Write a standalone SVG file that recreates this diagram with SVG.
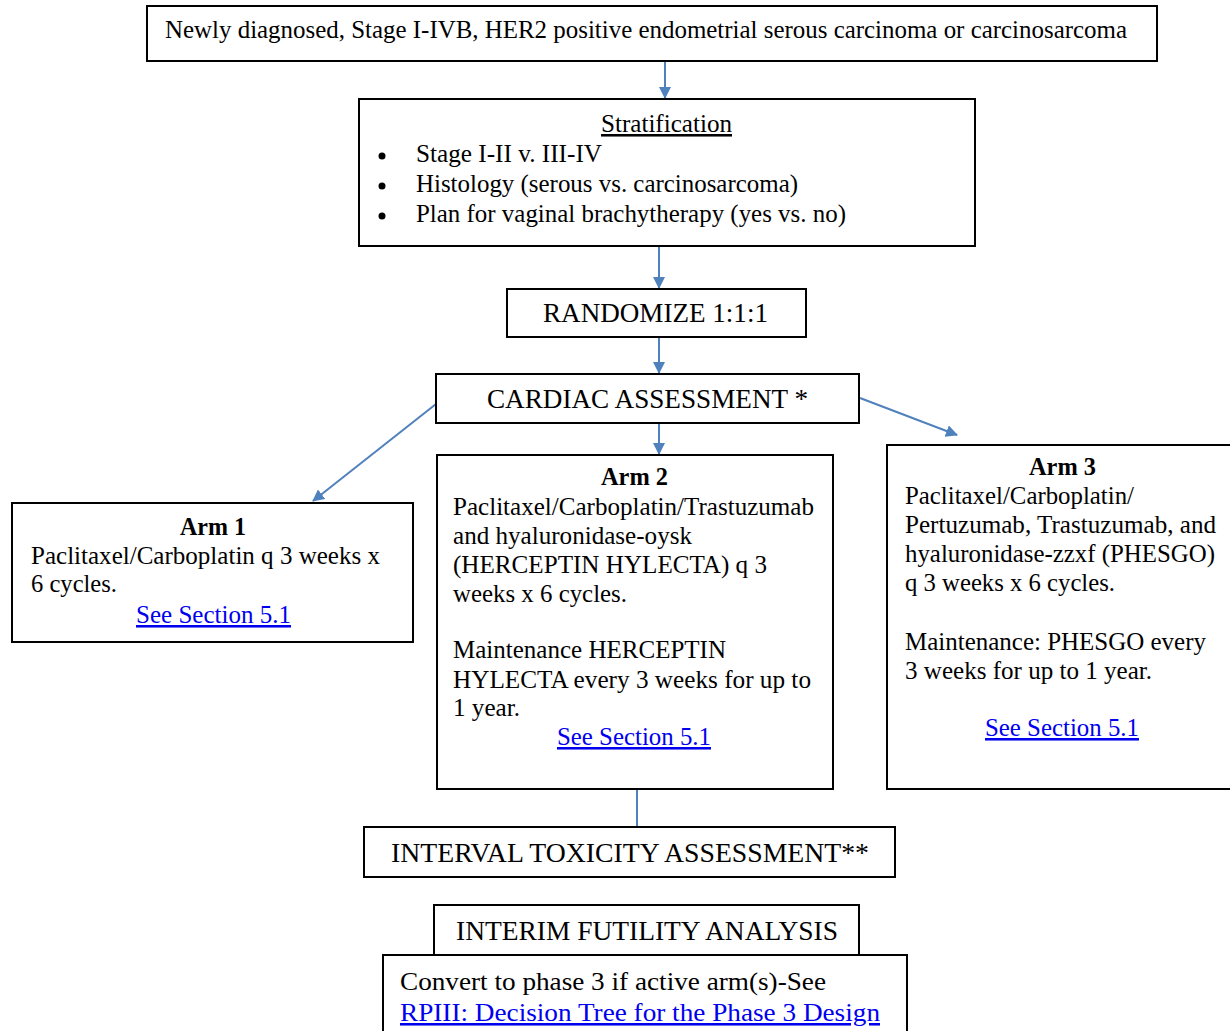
<svg xmlns="http://www.w3.org/2000/svg" width="1230" height="1031" viewBox="0 0 1230 1031">
<style>
.box{fill:#fff;stroke:#000;stroke-width:2}
text{font-family:"Liberation Serif","Times New Roman",serif;font-size:25.5px;fill:#000}
.cap{font-size:27px}
.b{font-weight:bold}
.lnk{fill:#0000ee;text-decoration:underline}
.c{stroke:#4f81bd;stroke-width:2;fill:none}
</style>
<defs>
<marker id="ah" markerWidth="12" markerHeight="12" refX="11" refY="6" orient="auto" markerUnits="userSpaceOnUse">
<path d="M0,0 L12,6 L0,12 Z" fill="#4f81bd"/>
</marker>
</defs>
<rect width="1230" height="1031" fill="#fff"/>
<g id="connectors">
<line class="c" x1="665" y1="62" x2="665" y2="98" marker-end="url(#ah)"/>
<line class="c" x1="659" y1="247" x2="659" y2="288" marker-end="url(#ah)"/>
<line class="c" x1="659" y1="338" x2="659" y2="373" marker-end="url(#ah)"/>
<line class="c" x1="659" y1="424" x2="659" y2="454" marker-end="url(#ah)"/>
<line class="c" x1="436" y1="404" x2="313" y2="501" marker-end="url(#ah)"/>
<line class="c" x1="860" y1="398" x2="957" y2="435" marker-end="url(#ah)"/>
<line class="c" x1="637" y1="790" x2="637" y2="827"/>
</g>
<g id="n1">
<rect class="box" x="147" y="6" width="1010" height="55"/>
<text x="165" y="38" textLength="962" lengthAdjust="spacingAndGlyphs">Newly diagnosed, Stage I-IVB, HER2 positive endometrial serous carcinoma or carcinosarcoma</text>
</g>
<g id="n2">
<rect class="box" x="359" y="99" width="616" height="147"/>
<text x="601" y="132" textLength="131" lengthAdjust="spacingAndGlyphs" text-decoration="underline">Stratification</text>
<circle cx="382" cy="156" r="3.5"/><circle cx="382" cy="186" r="3.5"/><circle cx="382" cy="216" r="3.5"/>
<text x="416" y="162" textLength="186" lengthAdjust="spacingAndGlyphs">Stage I-II v. III-IV</text>
<text x="416" y="192" textLength="382" lengthAdjust="spacingAndGlyphs">Histology (serous vs. carcinosarcoma)</text>
<text x="416" y="222" textLength="430" lengthAdjust="spacingAndGlyphs">Plan for vaginal brachytherapy (yes vs. no)</text>
</g>
<g id="n3">
<rect class="box" x="507" y="289" width="299" height="48"/>
<text class="cap" x="543" y="322" textLength="225" lengthAdjust="spacingAndGlyphs">RANDOMIZE 1:1:1</text>
</g>
<g id="n4">
<rect class="box" x="436" y="374" width="423" height="49"/>
<text class="cap" x="487" y="408" textLength="321" lengthAdjust="spacingAndGlyphs">CARDIAC ASSESSMENT *</text>
</g>
<g id="arm1">
<rect class="box" x="12" y="503" width="401" height="139"/>
<text class="b" x="180" y="535" textLength="66" lengthAdjust="spacingAndGlyphs">Arm 1</text>
<text x="31" y="564" textLength="349" lengthAdjust="spacingAndGlyphs">Paclitaxel/Carboplatin q 3 weeks x</text>
<text x="31" y="592" textLength="86" lengthAdjust="spacingAndGlyphs">6 cycles.</text>
<text class="lnk" x="136" y="623" textLength="155" lengthAdjust="spacingAndGlyphs">See Section 5.1</text>
</g>
<g id="arm2">
<rect class="box" x="437" y="455" width="396" height="334"/>
<text class="b" x="601" y="485" textLength="67" lengthAdjust="spacingAndGlyphs">Arm 2</text>
<text x="453" y="515" textLength="361" lengthAdjust="spacingAndGlyphs">Paclitaxel/Carboplatin/Trastuzumab</text>
<text x="453" y="544" textLength="239" lengthAdjust="spacingAndGlyphs">and hyaluronidase-oysk</text>
<text x="453" y="573" textLength="314" lengthAdjust="spacingAndGlyphs">(HERCEPTIN HYLECTA) q 3</text>
<text x="453" y="602" textLength="174" lengthAdjust="spacingAndGlyphs">weeks x 6 cycles.</text>
<text x="453" y="658" textLength="273" lengthAdjust="spacingAndGlyphs">Maintenance HERCEPTIN</text>
<text x="453" y="688" textLength="358" lengthAdjust="spacingAndGlyphs">HYLECTA every 3 weeks for up to</text>
<text x="453" y="716" textLength="67" lengthAdjust="spacingAndGlyphs">1 year.</text>
<text class="lnk" x="557" y="745" textLength="154" lengthAdjust="spacingAndGlyphs">See Section 5.1</text>
</g>
<g id="arm3">
<rect class="box" x="887" y="445" width="345" height="344"/>
<text class="b" x="1029" y="475" textLength="67" lengthAdjust="spacingAndGlyphs">Arm 3</text>
<text x="905" y="504" textLength="229" lengthAdjust="spacingAndGlyphs">Paclitaxel/Carboplatin/</text>
<text x="905" y="533" textLength="311" lengthAdjust="spacingAndGlyphs">Pertuzumab, Trastuzumab, and</text>
<text x="905" y="562" textLength="310" lengthAdjust="spacingAndGlyphs">hyaluronidase-zzxf (PHESGO)</text>
<text x="905" y="591" textLength="210" lengthAdjust="spacingAndGlyphs">q 3 weeks x 6 cycles.</text>
<text x="905" y="650" textLength="301" lengthAdjust="spacingAndGlyphs">Maintenance: PHESGO every</text>
<text x="905" y="679" textLength="247" lengthAdjust="spacingAndGlyphs">3 weeks for up to 1 year.</text>
<text class="lnk" x="985" y="736" textLength="154" lengthAdjust="spacingAndGlyphs">See Section 5.1</text>
</g>
<g id="n5">
<rect class="box" x="364" y="827" width="531" height="50"/>
<text class="cap" x="391" y="862" textLength="478" lengthAdjust="spacingAndGlyphs">INTERVAL TOXICITY ASSESSMENT**</text>
</g>
<g id="n6">
<rect class="box" x="434" y="905" width="425" height="50"/>
<text class="cap" x="456" y="940" textLength="382" lengthAdjust="spacingAndGlyphs">INTERIM FUTILITY ANALYSIS</text>
</g>
<g id="n7">
<rect class="box" x="383" y="955" width="524" height="90"/>
<text x="400" y="990" textLength="426" lengthAdjust="spacingAndGlyphs">Convert to phase 3 if active arm(s)-See</text>
<text class="lnk" x="400" y="1021" textLength="480" lengthAdjust="spacingAndGlyphs">RPIII: Decision Tree for the Phase 3 Design</text>
</g>
</svg>
